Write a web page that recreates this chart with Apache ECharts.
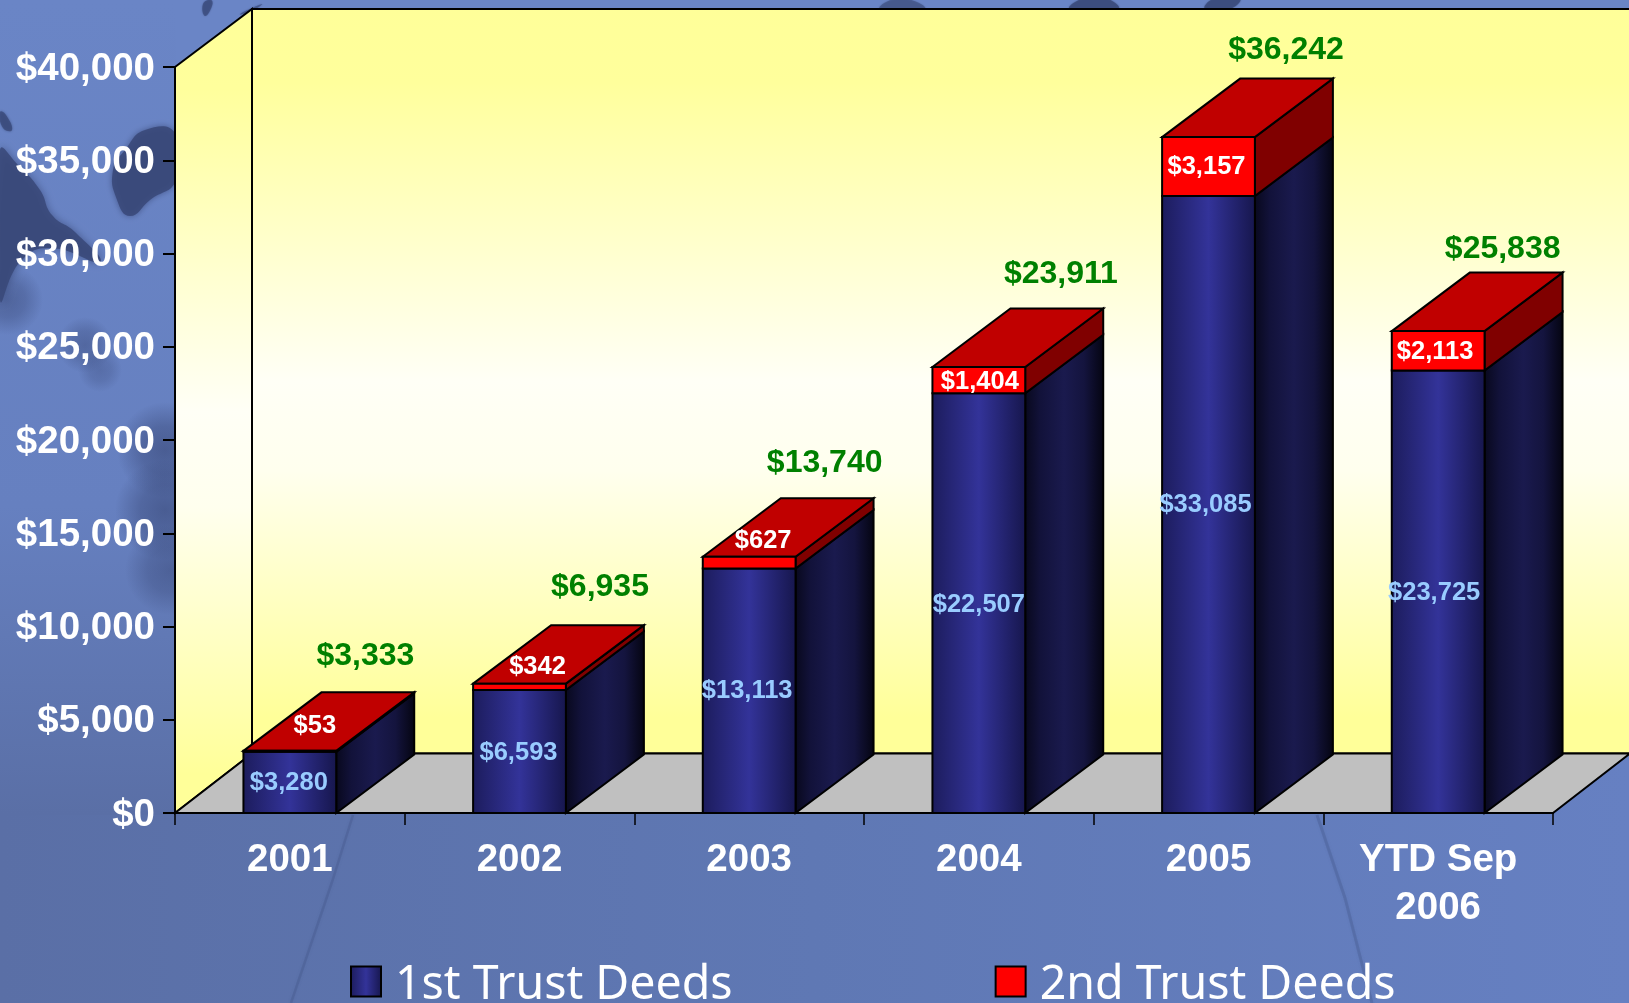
<!DOCTYPE html>
<html>
<head>
<meta charset="utf-8">
<style>html,body{margin:0;padding:0;width:1629px;height:1003px;overflow:hidden;background:#6480bf}#c{width:1629px;height:1003px}</style>
<script src="https://cdn.jsdelivr.net/npm/echarts@6/dist/echarts.min.js"></script>
</head>
<body>
<div id="c"></div>
<script>
// ---- data ----
const categories = ['2001', '2002', '2003', '2004', '2005', 'YTD Sep\n2006'];
const firstTrustDeeds = [3280, 6593, 13113, 22507, 33085, 23725];
const secondTrustDeeds = [53, 342, 627, 1404, 3157, 2113];
const totals = [3333, 6935, 13740, 23911, 36242, 25838];
const yTicks = { min: 0, max: 40000, interval: 5000 };

// ---- look and feel ----
const FONT = '"Liberation Sans", Arial, sans-serif';
const WALL_DX = 77, WALL_TOP_DY = 58, WALL_FLOOR_DY = 59.5, BAR_DX = 78, BAR_DY = 58.5;
const BAR_RATIO = 0.404;
const money = v => '$' + v.toLocaleString('en-US');
const grad = (x, y, x2, y2, stops) => new echarts.graphic.LinearGradient(x, y, x2, y2,
  stops.map(s => ({ offset: s[0], color: s[1] })));
const frontBlue = () => grad(0, 0, 1, 0, [[0, '#1c1c5c'], [0.5, '#333399'], [1, '#16164c']]);
const sideBlue = () => grad(0, 0, 1, 0, [[0, '#08081c'], [0.2, '#12123a'], [0.5, '#1a1a4e'], [0.75, '#14143e'], [1, '#040410']]);
const wallFill = () => grad(0, 0, 0, 1, [[0, '#ffff99'], [0.1, '#ffff9c'], [0.5, '#fffff6'], [0.62, '#ffffee'], [0.95, '#ffff99'], [1, '#ffff99']]);
const LINE = { stroke: '#000', lineWidth: 2, lineJoin: 'miter' };

// label nudges relative to the bar (thin red segments put the label on the top face)
const firstLabelShift = [[-1, 1], [-1, 1], [-2, 0], [0, 2], [-3, 0], [-4, 1]];
const secondLabelShift = [[25, -25], [18, -20], [14, -22], [1, 2], [-2, 0], [-3, 1]];
const totalLabelShift = [[75.5, -95], [80.5, -96], [75.5, -94], [82, -93], [77.5, -87], [64.5, -82]];

function poly(points, fill, extra) {
  return { type: 'polygon', shape: { points }, style: Object.assign({ fill }, LINE, extra || {}) };
}

function renderWalls(params) {
  const c = params.coordSys;
  const l = c.x, r = c.x + c.width, t = c.y, b = c.y + c.height;
  const backTop = t - WALL_TOP_DY, backBottom = b - WALL_FLOOR_DY;
  return {
    type: 'group', children: [
      poly([[l + WALL_DX, backTop], [r + WALL_DX, backTop], [r + WALL_DX, backBottom], [l + WALL_DX, backBottom]], wallFill()),
      poly([[l, t], [l + WALL_DX, backTop], [l + WALL_DX, backBottom], [l, b]], wallFill()),
      poly([[l, b], [l + WALL_DX, backBottom], [r + WALL_DX, backBottom], [r, b]], '#c0c0c0')
    ]
  };
}

function renderFirst(params, api) {
  const i = api.value(0);
  const base = api.coord([i, 0]), top = api.coord([i, api.value(1)]);
  const w = api.size([1, 0])[0] * BAR_RATIO;
  const x0 = base[0] - w / 2, x1 = base[0] + w / 2;
  const shift = firstLabelShift[i];
  return {
    type: 'group', children: [
      poly([[x1, top[1]], [x1 + BAR_DX, top[1] - BAR_DY], [x1 + BAR_DX, base[1] - BAR_DY], [x1, base[1]]], sideBlue()),
      poly([[x0, top[1]], [x1, top[1]], [x1, base[1]], [x0, base[1]]], frontBlue()),
      { type: 'text', z2: 10, style: { x: base[0] + shift[0], y: (top[1] + base[1]) / 2 + shift[1], text: money(api.value(1)), fill: '#99ccff', font: 'bold 25.5px ' + FONT, align: 'center', verticalAlign: 'middle' } }
    ]
  };
}

function renderSecond(params, api) {
  const i = api.value(0);
  const low = api.coord([i, firstTrustDeeds[i]]), top = api.coord([i, firstTrustDeeds[i] + api.value(1)]);
  const w = api.size([1, 0])[0] * BAR_RATIO;
  const x0 = low[0] - w / 2, x1 = low[0] + w / 2;
  const shift = secondLabelShift[i];
  return {
    type: 'group', children: [
      poly([[x1, top[1]], [x1 + BAR_DX, top[1] - BAR_DY], [x1 + BAR_DX, low[1] - BAR_DY], [x1, low[1]]], '#800000'),
      poly([[x0, top[1]], [x0 + BAR_DX, top[1] - BAR_DY], [x1 + BAR_DX, top[1] - BAR_DY], [x1, top[1]]], '#c00000'),
      poly([[x0, top[1]], [x1, top[1]], [x1, low[1]], [x0, low[1]]], '#ff0000'),
      { type: 'text', z2: 10, style: { x: low[0] + shift[0], y: (top[1] + low[1]) / 2 + shift[1], text: money(api.value(1)), fill: '#ffffff', font: 'bold 25.5px ' + FONT, align: 'center', verticalAlign: 'middle' } }
    ]
  };
}

function renderTotal(params, api) {
  const i = api.value(0);
  const p = api.coord([i, api.value(1)]);
  const shift = totalLabelShift[i];
  return { type: 'text', style: { x: p[0] + shift[0], y: p[1] + shift[1], text: money(api.value(1)), fill: '#008000', font: 'bold 32px ' + FONT, align: 'center', verticalAlign: 'middle' } };
}

// Soft, darker map shapes of the slide background
const DARK = 'rgba(56,72,120,0.85)';
function land(points, opacity, blur) {
  return { type: 'polygon', z: -10, silent: true, shape: { points, smooth: 0.5 }, style: { fill: DARK, opacity: opacity, shadowBlur: blur, shadowColor: DARK } };
}
function soft(cx, cy, r, alpha) {
  return { type: 'circle', z: -11, silent: true, shape: { cx, cy, r },
    style: { fill: new echarts.graphic.RadialGradient(0.5, 0.5, 0.5, [
      { offset: 0, color: 'rgba(50,64,110,' + alpha + ')' },
      { offset: 0.5, color: 'rgba(50,64,110,' + alpha * 0.7 + ')' },
      { offset: 1, color: 'rgba(50,64,110,0)' }]) } };
}
function streak(points, width) {
  return { type: 'polyline', z: -10, silent: true, shape: { points }, style: { stroke: 'rgba(62,80,130,0.28)', lineWidth: width, fill: null, shadowBlur: 3, shadowColor: 'rgba(62,80,130,0.4)' } };
}
const backdrop = [
  { type: 'rect', z: -20, silent: true, shape: { x: 0, y: 0, width: 1629, height: 1003 },
    style: { fill: new echarts.graphic.LinearGradient(0, 0, 1, 0, [{ offset: 0, color: '#5a6fa6' }, { offset: 0.5, color: '#5f78b4' }, { offset: 1, color: '#6680c2' }]) } },
  { type: 'rect', z: -19, silent: true, shape: { x: 0, y: 0, width: 176, height: 815 },
    style: { fill: new echarts.graphic.LinearGradient(0, 0, 0, 1, [{ offset: 0, color: '#6a85c6' }, { offset: 0.62, color: '#6680c0' }, { offset: 1, color: '#5a6fa6' }]) } },
  { type: 'rect', z: -19, silent: true, shape: { x: 176, y: 0, width: 1453, height: 70 }, style: { fill: '#6a85c6' } },
  land([[125, 150], [145, 130], [175, 133], [176, 180], [150, 200], [130, 216], [117, 200], [113, 170]], 1, 6),
  land([[0, 150], [18, 165], [40, 190], [52, 215], [75, 232], [100, 262], [50, 248], [20, 262], [0, 300]], 1, 8),
  land([[0, 112], [6, 115], [12, 130], [3, 128]], 0.9, 3),
  soft(165, 450, 48, 0.55),
  soft(165, 510, 50, 0.55),
  soft(170, 570, 45, 0.45),
  soft(85, 345, 28, 0.4),
  soft(100, 370, 22, 0.3),
  soft(8, 300, 35, 0.45),
  land([[203, 4], [211, 0], [212, 6], [205, 16]], 0.8, 2),
  land([[240, 14], [262, 4], [250, 12]], 0.7, 2),
  land([[1070, 9], [1084, -2], [1106, -2], [1118, 9]], 0.9, 2),
  land([[1205, 9], [1215, -2], [1240, -2], [1230, 9]], 0.9, 2),
  land([[880, 9], [900, -2], [925, 9]], 0.6, 2),
  streak([[353, 815], [332, 882], [291, 1003]], 2.5),
  streak([[1317, 815], [1345, 898], [1372, 1003]], 3)
];

const chart = echarts.init(document.getElementById('c'), null, { renderer: 'canvas', width: 1629, height: 1003 });
chart.setOption({
  animation: false,
  backgroundColor: '#6480bf',
  graphic: { elements: backdrop },
  grid: { left: 175, top: 67, width: 1378, height: 746, containLabel: false },
  xAxis: {
    type: 'category', data: categories, boundaryGap: true, z: 5,
    axisLine: { lineStyle: { color: '#000', width: 2 } },
    axisTick: { show: true, length: 12, alignWithLabel: false, lineStyle: { color: '#000', width: 1.5 } },
    axisLabel: { color: '#fff', fontFamily: FONT, fontWeight: 'bold', fontSize: 38.5, lineHeight: 48, margin: 23, interval: 0 }
  },
  yAxis: {
    type: 'value', min: yTicks.min, max: yTicks.max, interval: yTicks.interval, z: 5,
    axisLine: { show: true, lineStyle: { color: '#000', width: 2 } },
    axisTick: { show: true, length: 12, lineStyle: { color: '#000', width: 2 } },
    splitLine: { show: false },
    axisLabel: { margin: 20, formatter: v => '{a|' + money(v) + '}',
      rich: { a: { color: '#fff', fontFamily: FONT, fontWeight: 'bold', fontSize: 38.5, padding: [4, 0, 0, 0] } } }
  },
  legend: {
    left: 345, top: 957, itemWidth: 30, itemHeight: 30, itemGap: 262, selectedMode: false, icon: 'rect',
    formatter: '{a|{name}}',
    textStyle: { rich: { a: { color: '#fff', fontFamily: '"Noto Sans", sans-serif', fontSize: 46.5, padding: [8, 0, 0, 9] } } },
    data: [
      { name: '1st Trust Deeds', itemStyle: { color: frontBlue(), borderColor: '#000', borderWidth: 2 } },
      { name: '2nd Trust Deeds', itemStyle: { color: '#ff0000', borderColor: '#000', borderWidth: 2 } }
    ]
  },
  series: [
    { type: 'custom', name: 'walls', coordinateSystem: 'cartesian2d', z: 1, silent: true, renderItem: renderWalls, data: [[0, 0]] },
    { type: 'custom', name: '1st Trust Deeds', coordinateSystem: 'cartesian2d', z: 2, renderItem: renderFirst, encode: { x: 0, y: 1 },
      itemStyle: { color: '#333399' }, data: firstTrustDeeds.map((v, i) => [i, v]) },
    { type: 'custom', name: '2nd Trust Deeds', coordinateSystem: 'cartesian2d', z: 3, renderItem: renderSecond, encode: { x: 0, y: 1 },
      itemStyle: { color: '#ff0000' }, data: secondTrustDeeds.map((v, i) => [i, v]) },
    { type: 'custom', name: 'Total', coordinateSystem: 'cartesian2d', z: 6, renderItem: renderTotal, encode: { x: 0, y: 1 },
      data: totals.map((v, i) => [i, v]) }
  ]
});
</script>
</body>
</html>
